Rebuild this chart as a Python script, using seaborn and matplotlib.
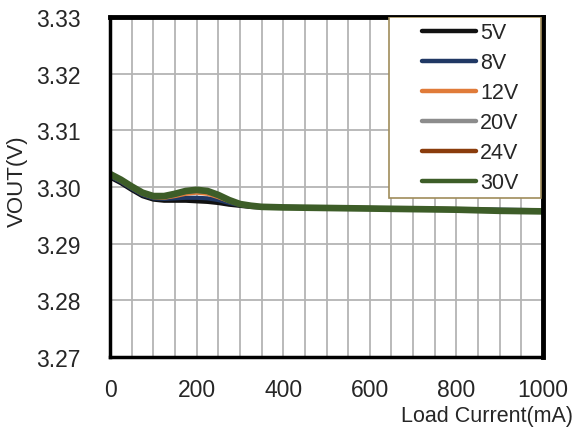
import matplotlib
matplotlib.use("Agg")
import matplotlib.pyplot as plt
import matplotlib.patches as mpatches
from matplotlib.ticker import MultipleLocator
import seaborn as sns

sns.set_style("white")
plt.rcParams["font.family"] = ["Liberation Sans", "DejaVu Sans"]

# load current (mA)
current = [0, 25, 50, 75, 100, 125, 150, 175, 200, 225, 250, 275, 300, 325, 350,
           400, 500, 600, 700, 800, 900, 1000]

# output voltage (V) for each input voltage
v5 = [3.3017, 3.3007, 3.2995, 3.2984, 3.2978, 3.2976, 3.2976, 3.2976, 3.2975, 3.2974, 3.2972,
      3.2969, 3.2967, 3.2965, 3.2964, 3.2964, 3.2963, 3.2962, 3.2961, 3.2960, 3.2959, 3.2958]
v8 = [3.3019, 3.3009, 3.2997, 3.2986, 3.2980, 3.2979, 3.2980, 3.2981, 3.2981, 3.2980, 3.2977,
      3.2972, 3.2968, 3.2966, 3.2965, 3.2965, 3.2964, 3.2963, 3.2962, 3.2961, 3.2960, 3.2959]
v12 = [3.3021, 3.3011, 3.2999, 3.2988, 3.2982, 3.2981, 3.2984, 3.2988, 3.2990, 3.2988, 3.2982,
       3.2975, 3.2969, 3.2966, 3.2965, 3.2964, 3.2964, 3.2963, 3.2962, 3.2961, 3.2959, 3.2958]
v20 = [3.3022, 3.3012, 3.3000, 3.2989, 3.2983, 3.2982, 3.2986, 3.2991, 3.2993, 3.2991, 3.2984,
       3.2976, 3.2970, 3.2967, 3.2965, 3.2964, 3.2963, 3.2962, 3.2961, 3.2960, 3.2958, 3.2957]
v24 = [3.3022, 3.3012, 3.3000, 3.2989, 3.2983, 3.2983, 3.2987, 3.2992, 3.2994, 3.2992, 3.2985,
       3.2976, 3.2970, 3.2967, 3.2965, 3.2964, 3.2963, 3.2962, 3.2961, 3.2960, 3.2958, 3.2957]
v30 = [3.3023, 3.3013, 3.3001, 3.2990, 3.2984, 3.2984, 3.2988, 3.2993, 3.2995, 3.2993, 3.2986,
       3.2977, 3.2970, 3.2967, 3.2965, 3.2964, 3.2963, 3.2962, 3.2961, 3.2960, 3.2958, 3.2957]

labels = ["5V", "8V", "12V", "20V", "24V", "30V"]
series = [v5, v8, v12, v20, v24, v30]
colors = ["#111111", "#203864", "#e07b39", "#8c8c8c", "#8a3c0c", "#3d5d28"]
widths = [3.2, 3.0, 3.0, 3.0, 3.0, 4.8]

xticks = [0, 200, 400, 600, 800, 1000]
yticks = [3.27, 3.28, 3.29, 3.30, 3.31, 3.32, 3.33]
ytick_labels = ["3.27", "3.28", "3.29", "3.30", "3.31", "3.32", "3.33"]

fig = plt.figure(figsize=(5.8, 4.35), dpi=100)
ax = fig.add_axes([0.1897, 0.177, 0.7465, 0.7816])

for vals, lab, c, w in zip(series, labels, colors, widths):
    sns.lineplot(x=current, y=vals, color=c, linewidth=w, label=lab, ax=ax,
                 solid_capstyle="butt")

ax.set_xlim(0, 1000)
ax.set_ylim(3.27, 3.33)
ax.set_xticks(xticks)
ax.set_yticks(yticks)
ax.set_yticklabels(ytick_labels)
ax.xaxis.set_minor_locator(MultipleLocator(50))
ax.grid(True, which="both", color="#b4b4b4", linewidth=1.3)
ax.set_axisbelow(True)
ax.tick_params(which="both", length=0, labelsize=16.5)
ax.tick_params(axis="y", pad=21)
ax.tick_params(axis="x", pad=15)

ax.set_xlabel("Load Current(mA)", fontsize=15.5, ha="right")
ax.xaxis.set_label_coords(1.07, -0.14)
ax.set_ylabel("VOUT(V)", fontsize=16)
ax.yaxis.set_label_coords(-0.19, 0.52)

for side, lw in [("left", 2.5), ("bottom", 2.5), ("top", 3.5), ("right", 3.5)]:
    ax.spines[side].set_visible(True)
    ax.spines[side].set_color("black")
    ax.spines[side].set_linewidth(lw)

# legend box
box = mpatches.Rectangle((0.645, 0.468), 0.350, 0.531, transform=ax.transAxes,
                         facecolor="white", edgecolor="#a08c5a", linewidth=1.2,
                         zorder=4.5)
ax.add_patch(box)
leg = ax.legend(loc="upper left", bbox_to_anchor=(0.72, 0.985), frameon=False,
                fontsize=15.5, handlelength=2.5, handletextpad=0.2,
                labelspacing=0.42, borderpad=0, borderaxespad=0)
for line in leg.get_lines():
    line.set_linewidth(3.2)
    line.set_solid_capstyle("round")

fig.savefig("out.png", dpi=100)
